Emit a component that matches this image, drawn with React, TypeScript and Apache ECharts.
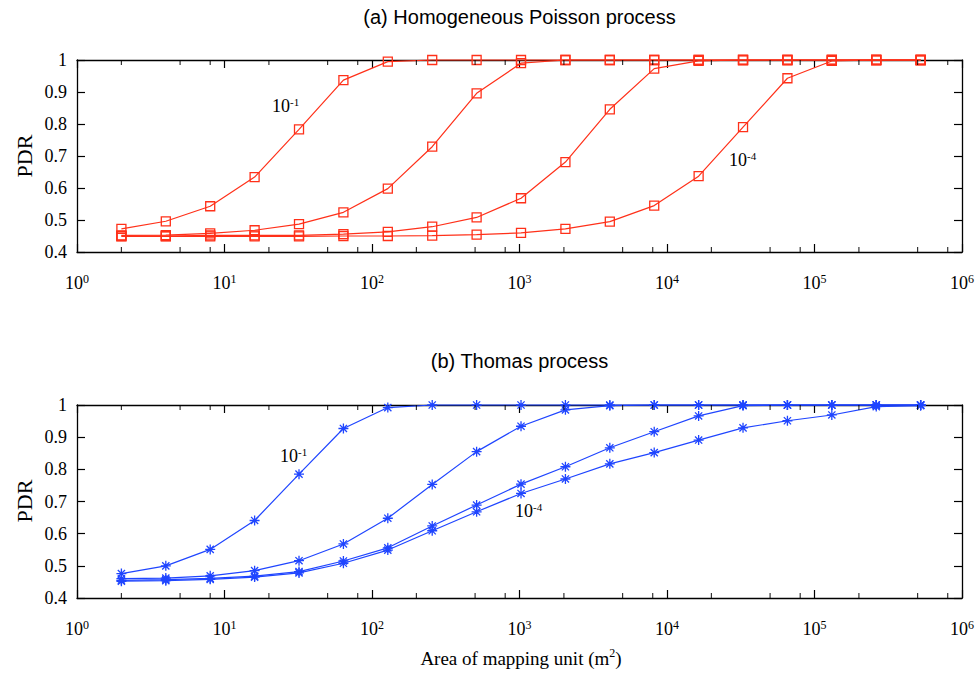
import React, { useEffect, useRef } from "react";
import * as echarts from "echarts";

const areas = [2, 4, 8, 16, 32, 64, 128, 256, 512, 1024, 2048, 4096, 8192, 16384, 32768, 65536, 131072, 262144, 524288];

// (a) Homogeneous Poisson process
const poisson1 = [0.472, 0.496, 0.543, 0.634, 0.783, 0.937, 0.995, 1, 1, 1, 1, 1, 1, 1, 1, 1, 1, 1, 1];
const poisson2 = [0.452, 0.453, 0.458, 0.468, 0.487, 0.524, 0.598, 0.729, 0.896, 0.99, 1, 1, 1, 1, 1, 1, 1, 1, 1];
const poisson3 = [0.45, 0.45, 0.452, 0.452, 0.452, 0.456, 0.463, 0.479, 0.508, 0.568, 0.681, 0.846, 0.973, 0.997, 1, 1, 1, 1, 1];
const poisson4 = [0.449, 0.449, 0.449, 0.449, 0.449, 0.45, 0.45, 0.451, 0.454, 0.46, 0.472, 0.495, 0.545, 0.637, 0.79, 0.943, 0.997, 1, 1];

// (b) Thomas process
const thomas1 = [0.476, 0.5, 0.551, 0.641, 0.785, 0.927, 0.992, 1, 1, 1, 1, 1, 1, 1, 1, 1, 1, 1, 1];
const thomas2 = [0.46, 0.462, 0.469, 0.485, 0.516, 0.568, 0.648, 0.753, 0.855, 0.934, 0.985, 0.998, 1, 1, 1, 1, 1, 1, 1];
const thomas3 = [0.455, 0.457, 0.461, 0.468, 0.482, 0.515, 0.556, 0.624, 0.689, 0.754, 0.808, 0.867, 0.917, 0.966, 0.998, 1, 1, 1, 1];
const thomas4 = [0.452, 0.454, 0.458, 0.465, 0.478, 0.508, 0.549, 0.609, 0.668, 0.725, 0.77, 0.817, 0.852, 0.891, 0.929, 0.951, 0.969, 0.995, 0.998];

const minorTickValues = [2, 5, 8, 20, 50, 80, 200, 500, 800, 2000, 5000, 8000, 20000, 50000, 80000, 200000, 500000, 800000];

const titles = ["(a) Homogeneous Poisson process", "(b) Thomas process"];
const yName = "PDR";

const SERIF = "Liberation Serif, DejaVu Serif, serif";
const SANS = "Liberation Sans, Arial, sans-serif";
const RED = "#ff3019";
const BLUE = "#1f45ff";

export default function App() {
  const ref = useRef<HTMLDivElement>(null);

  useEffect(() => {
    document.body.style.margin = "0";
    const chart = echarts.init(ref.current!, null, { renderer: "svg" });

    const starPath = "path://M0,-5L0,5M-5,0L5,0M-3.6,-3.6L3.6,3.6M-3.6,3.6L3.6,-3.6";

    const grids = [
      { left: 77, top: 60, width: 885, height: 192 },
      { left: 77, top: 405, width: 885, height: 193 },
    ];

    const axisLineStyle = { color: "#000", width: 1.3 };
    const tickStyle = { show: true, inside: true, length: 8, lineStyle: { color: "#000", width: 1.2 } };
    const xAxes: any[] = [];
    const yAxes: any[] = [];
    grids.forEach((_, gi) => {
      xAxes.push({
        type: "log",
        gridIndex: gi,
        min: 1,
        max: 1000000,
        logBase: 10,
        position: "bottom",
        axisLine: { show: true, lineStyle: axisLineStyle },
        axisTick: tickStyle,
        splitLine: { show: false },
        axisLabel: {
          margin: 21,
          color: "#000",
          fontFamily: SERIF,
          fontSize: 18,
          formatter: (v: number) => "{b|10}{sup|" + Math.round(Math.log10(v)) + "}",
          rich: {
            b: { fontSize: 18, fontFamily: SERIF, lineHeight: 20, color: "#000" },
            sup: { fontSize: 12, fontFamily: SERIF, lineHeight: 12, verticalAlign: "top", color: "#000" },
          },
        },
      });
      xAxes.push({
        type: "log",
        gridIndex: gi,
        min: 1,
        max: 1000000,
        logBase: 10,
        position: "top",
        axisLine: { show: true, lineStyle: axisLineStyle },
        axisTick: tickStyle,
        splitLine: { show: false },
        axisLabel: { show: false },
      });
      yAxes.push({
        type: "value",
        gridIndex: gi,
        min: 0.4,
        max: 1,
        interval: 0.1,
        position: "left",
        axisLine: { show: true, lineStyle: axisLineStyle },
        axisTick: tickStyle,
        splitLine: { show: false },
        axisLabel: {
          margin: 10,
          color: "#000",
          fontSize: 18,
          fontFamily: SERIF,
          formatter: (v: number) => String(+v.toFixed(1)),
        },
      });
      yAxes.push({
        type: "value",
        gridIndex: gi,
        min: 0.4,
        max: 1,
        interval: 0.1,
        position: "right",
        axisLine: { show: true, lineStyle: axisLineStyle },
        axisTick: tickStyle,
        splitLine: { show: false },
        axisLabel: { show: false },
      });
    });

    const mk = (vals: number[], gi: number, color: string, symbol: string) => ({
      type: "line",
      xAxisIndex: gi * 2,
      yAxisIndex: gi * 2,
      data: areas.map((a, i) => [a, vals[i]]),
      symbol,
      symbolSize: symbol === "rect" ? 9 : 10,
      showSymbol: true,
      clip: false,
      lineStyle: { color, width: 1.2 },
      itemStyle: { color: symbol === "rect" ? "rgba(255,255,255,0)" : color, borderColor: color, borderWidth: 1.3 },
      z: 3,
    });

    const minorTicks = (gi: number, y: number, dir: number) => ({
      type: "scatter",
      xAxisIndex: gi * 2,
      yAxisIndex: gi * 2,
      data: minorTickValues.map((v) => [v, y]),
      symbol: "rect",
      symbolSize: [1.2, 5],
      symbolOffset: [0, dir * 2.5],
      itemStyle: { color: "#000" },
      silent: true,
      clip: false,
      z: 4,
    });

    const series: any[] = [
      mk(poisson1, 0, RED, "rect"),
      mk(poisson2, 0, RED, "rect"),
      mk(poisson3, 0, RED, "rect"),
      mk(poisson4, 0, RED, "rect"),
      mk(thomas1, 1, BLUE, starPath),
      mk(thomas2, 1, BLUE, starPath),
      mk(thomas3, 1, BLUE, starPath),
      mk(thomas4, 1, BLUE, starPath),
      minorTicks(0, 0.4, -1),
      minorTicks(0, 1, 1),
      minorTicks(1, 0.4, -1),
      minorTicks(1, 1, 1),
    ];

    const richSup = {
      b: { fontSize: 18, fontFamily: SERIF, lineHeight: 20, fill: "#000" },
      sup: { fontSize: 11, fontFamily: SERIF, lineHeight: 11, verticalAlign: "top", fill: "#000" },
    };
    const note = (x: number, y: number, txt: string) => ({
      type: "text",
      x,
      y,
      style: { text: "{b|10}{sup|" + txt + "}", rich: richSup, textAlign: "left", textVerticalAlign: "middle" },
      z: 10,
    });

    const graphic: any[] = [
      { type: "text", x: 519.5, y: 17, style: { text: titles[0], font: "20px " + SANS, fill: "#000", textAlign: "center", textVerticalAlign: "middle" } },
      { type: "text", x: 519.5, y: 361, style: { text: titles[1], font: "20px " + SANS, fill: "#000", textAlign: "center", textVerticalAlign: "middle" } },
      { type: "text", x: 24, y: 156, rotation: Math.PI / 2, style: { text: yName, font: "22px " + SERIF, fill: "#000", textAlign: "center", textVerticalAlign: "middle" } },
      { type: "text", x: 24, y: 501, rotation: Math.PI / 2, style: { text: yName, font: "22px " + SERIF, fill: "#000", textAlign: "center", textVerticalAlign: "middle" } },
      {
        type: "text",
        x: 521,
        y: 658,
        style: {
          text: "{n|Area of mapping unit (m}{sup|2}{n|)}",
          rich: {
            n: { fontSize: 19, fontFamily: SERIF, lineHeight: 22, fill: "#000" },
            sup: { fontSize: 12, fontFamily: SERIF, lineHeight: 12, verticalAlign: "top", fill: "#000" },
          },
          textAlign: "center",
          textVerticalAlign: "middle",
        },
      },
      note(272, 106, "-1"),
      note(729, 160, "-4"),
      note(280, 456, "-1"),
      note(515, 511, "-4"),
    ];

    chart.setOption({
      animation: false,
      backgroundColor: "#fff",
      grid: grids,
      xAxis: xAxes,
      yAxis: yAxes,
      series,
      graphic,
    });

    return () => chart.dispose();
  }, []);

  return <div ref={ref} style={{ width: 979, height: 673 }} />;
}
